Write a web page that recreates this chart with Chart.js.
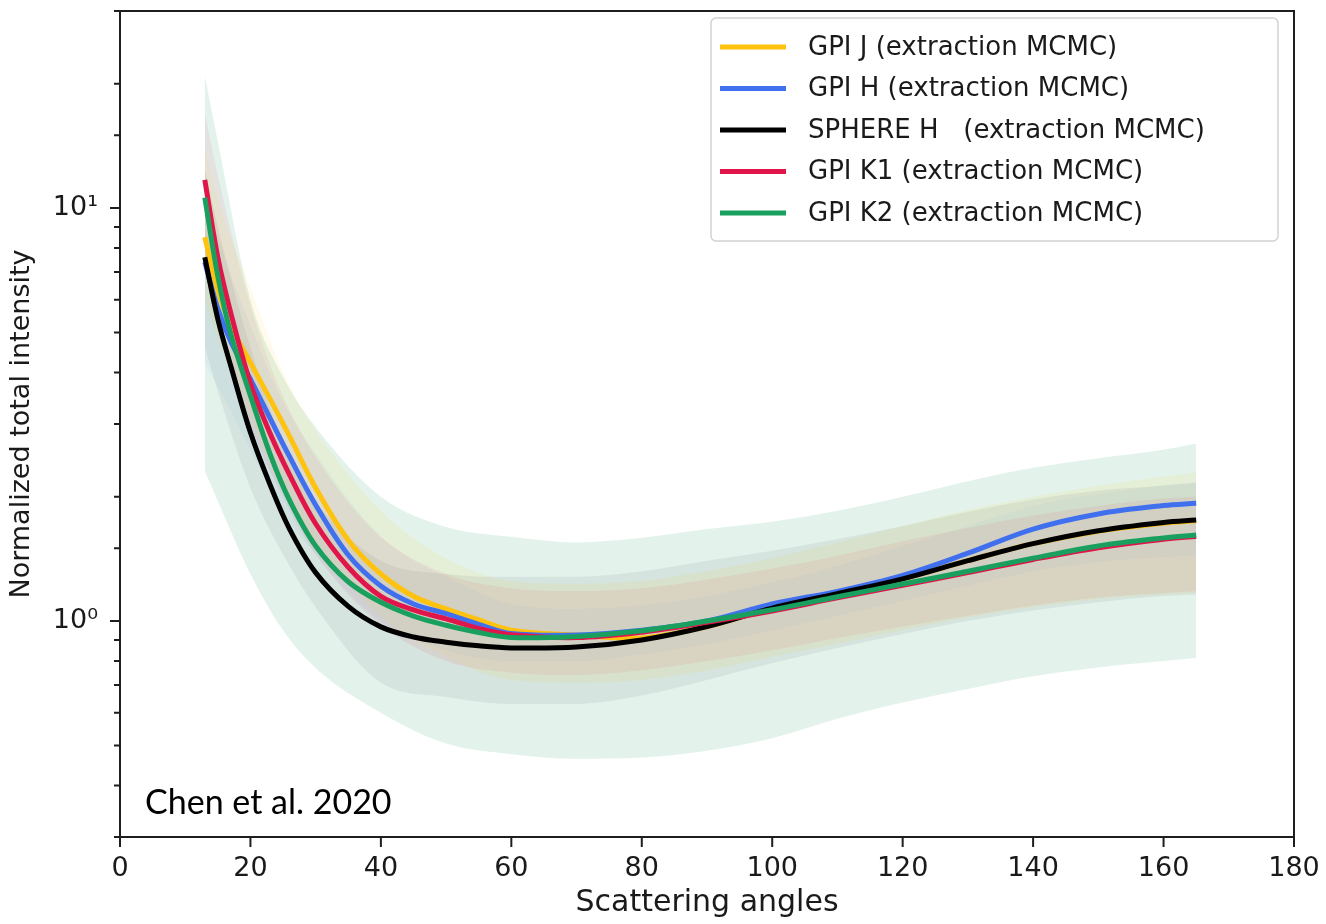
<!DOCTYPE html>
<html>
<head>
<meta charset="utf-8">
<script src="https://cdn.jsdelivr.net/npm/chart.js@4"></script>
<style>
  html, body { margin: 0; padding: 0; background: #fff; }
  #wrap { width: 1326px; height: 924px; }
</style>
</head>
<body>
<div id="wrap"><canvas id="chart" width="1326" height="924"></canvas></div>
<script>
// scattering angle grid for the mean curves
const ANGLES = [13, 15, 17, 20, 23, 26, 30, 35, 40, 45, 50, 55, 60, 70, 80, 90, 100, 110, 120, 130, 140, 150, 160, 165];
const GPI_J  = [8.5, 6.31, 5.19, 4.22, 3.45, 2.8, 2.1, 1.57, 1.3, 1.148, 1.07, 1.007, 0.95, 0.925, 0.91, 0.97, 1.075, 1.165, 1.265, 1.4, 1.54, 1.65, 1.725, 1.75];
const GPI_H  = [7.4, 5.7, 4.75, 3.85, 3.1, 2.5, 1.91, 1.445, 1.216, 1.1, 1.042, 0.982, 0.933, 0.925, 0.95, 1.0, 1.1, 1.18, 1.29, 1.46, 1.67, 1.817, 1.904, 1.928];
const SPHERE = [7.6, 5.38, 4.14, 2.86, 2.14, 1.67, 1.31, 1.085, 0.968, 0.915, 0.889, 0.871, 0.861, 0.865, 0.9, 0.97, 1.075, 1.165, 1.265, 1.4, 1.54, 1.655, 1.733, 1.757];
const GPI_K1 = [11.7, 7.59, 5.56, 3.76, 2.85, 2.26, 1.72, 1.35, 1.148, 1.064, 1.012, 0.96, 0.927, 0.912, 0.94, 0.993, 1.058, 1.138, 1.22, 1.31, 1.41, 1.505, 1.578, 1.602];
const GPI_K2 = [10.6, 6.84, 4.95, 3.51, 2.54, 1.96, 1.52, 1.245, 1.11, 1.028, 0.977, 0.938, 0.912, 0.918, 0.947, 1.0, 1.065, 1.145, 1.229, 1.32, 1.42, 1.52, 1.59, 1.616];

// uncertainty bands (lower / upper)
const BAND_ANGLES = [13, 15, 20, 25, 30, 40, 50, 60, 70, 80, 90, 100, 110, 120, 130, 140, 150, 160, 165];
const GPI_J_LO  = [6.0, 4.8, 3.1, 2.05, 1.55, 1.02, 0.82, 0.72, 0.71, 0.72, 0.76, 0.82, 0.88, 0.95, 1.02, 1.08, 1.13, 1.16, 1.17];
const GPI_J_HI  = [14.0, 10.5, 6.4, 4.0, 2.9, 1.85, 1.42, 1.25, 1.23, 1.25, 1.32, 1.42, 1.55, 1.7, 1.86, 2.0, 2.13, 2.24, 2.29];
const GPI_H_LO  = [4.2, 3.7, 2.6, 1.85, 1.45, 1.0, 0.85, 0.8, 0.8, 0.83, 0.88, 0.95, 1.03, 1.12, 1.22, 1.32, 1.39, 1.43, 1.44];
const GPI_H_HI  = [11.0, 8.5, 5.2, 3.4, 2.55, 1.6, 1.28, 1.1, 1.07, 1.09, 1.15, 1.24, 1.36, 1.52, 1.7, 1.9, 2.03, 2.13, 2.17];
const SPHERE_LO = [4.6, 3.6, 2.1, 1.45, 1.08, 0.71, 0.655, 0.63, 0.63, 0.66, 0.72, 0.79, 0.86, 0.93, 1.0, 1.06, 1.11, 1.15, 1.16];
const SPHERE_HI = [12.5, 9.0, 4.6, 2.7, 1.95, 1.4, 1.3, 1.28, 1.28, 1.32, 1.4, 1.48, 1.58, 1.7, 1.84, 1.97, 2.07, 2.13, 2.16];
const GPI_K1_LO = [7.5, 5.8, 3.0, 2.0, 1.45, 0.98, 0.8, 0.75, 0.74, 0.76, 0.8, 0.85, 0.91, 0.97, 1.03, 1.09, 1.14, 1.17, 1.18];
const GPI_K1_HI = [17.0, 12.0, 5.8, 3.5, 2.5, 1.6, 1.3, 1.2, 1.18, 1.2, 1.26, 1.34, 1.44, 1.56, 1.68, 1.8, 1.9, 1.98, 2.0];
const GPI_K2_LO = [2.31, 1.95, 1.3, 0.95, 0.77, 0.6, 0.505, 0.476, 0.464, 0.467, 0.485, 0.52, 0.58, 0.635, 0.685, 0.735, 0.772, 0.8, 0.814];
const GPI_K2_HI = [20.9, 14.5, 6.0, 3.9, 2.95, 2.0, 1.69, 1.6, 1.55, 1.59, 1.67, 1.74, 1.85, 2.0, 2.18, 2.35, 2.48, 2.6, 2.69];

const X_TICKS = [0, 20, 40, 60, 80, 100, 120, 140, 160, 180];
const Y_MIN = 0.3;
const Y_MAX = 30;

const series = [
  { label: "GPI J (extraction MCMC)",      color: "#ffc20e", rgb: "255,194,14", a: 0.085, mean: GPI_J,  lo: GPI_J_LO,  hi: GPI_J_HI,  order: 4 },
  { label: "GPI H (extraction MCMC)",      color: "#4170ef", rgb: "65,112,239", a: 0.05,  mean: GPI_H,  lo: GPI_H_LO,  hi: GPI_H_HI,  order: 3 },
  { label: "SPHERE H   (extraction MCMC)", color: "#000000", rgb: "0,0,0",      a: 0.06,  mean: SPHERE, lo: SPHERE_LO, hi: SPHERE_HI, order: 2 },
  { label: "GPI K1 (extraction MCMC)",     color: "#e0164b", rgb: "224,22,75",  a: 0.08,  mean: GPI_K1, lo: GPI_K1_LO, hi: GPI_K1_HI, order: 1 },
  { label: "GPI K2 (extraction MCMC)",     color: "#19a05f", rgb: "25,160,95",  a: 0.12,  mean: GPI_K2, lo: GPI_K2_LO, hi: GPI_K2_HI, order: 0 },
];

function pts(xs, ys) {
  return xs.map((x, i) => ({ x: x, y: ys[i] }));
}

const datasets = [];
series.forEach((s) => {
  // lower edge (invisible), then upper edge filled down to it
  datasets.push({
    data: pts(BAND_ANGLES, s.lo), borderWidth: 0, pointRadius: 0,
    fill: false, cubicInterpolationMode: "monotone", order: 20, isBand: true,
  });
  datasets.push({
    data: pts(BAND_ANGLES, s.hi), borderWidth: 0, pointRadius: 0,
    fill: "-1", backgroundColor: "rgba(" + s.rgb + "," + s.a + ")",
    cubicInterpolationMode: "monotone", order: 20, isBand: true,
  });
});
series.forEach((s) => {
  datasets.push({
    label: s.label, data: pts(ANGLES, s.mean),
    borderColor: s.color, borderWidth: 5, pointRadius: 0,
    fill: false, tension: 0.35, order: s.order,
  });
});

const FONT = "DejaVu Sans";

function noPad(scale) {
  scale.paddingLeft = 0;
  scale.paddingRight = 0;
  scale.paddingTop = 0;
  scale.paddingBottom = 0;
}

// spines, tick marks, legend and the citation text
const decor = {
  id: "decor",
  afterDraw(chart) {
    const { ctx, chartArea: a, scales } = chart;
    ctx.save();
    ctx.strokeStyle = "#1e1e1e";
    ctx.lineWidth = 2;
    ctx.strokeRect(a.left, a.top, a.right - a.left, a.bottom - a.top);

    ctx.beginPath();
    scales.x.ticks.forEach((t) => {
      const px = scales.x.getPixelForValue(t.value);
      ctx.moveTo(px, a.bottom);
      ctx.lineTo(px, a.bottom + 10);
    });
    scales.y.ticks.forEach((t) => {
      const py = scales.y.getPixelForValue(t.value);
      const lg = Math.log10(t.value);
      const major = Math.abs(lg - Math.round(lg)) < 1e-6;
      ctx.moveTo(a.left - (major ? 10 : 6), py);
      ctx.lineTo(a.left, py);
    });
    ctx.stroke();

    // legend box
    const lx = 711, ly = 18, lw = 567, lh = 223;
    ctx.beginPath();
    ctx.roundRect(lx, ly, lw, lh, 5);
    ctx.fillStyle = "rgba(255,255,255,0.85)";
    ctx.fill();
    ctx.strokeStyle = "#d2d2d2";
    ctx.lineWidth = 1.5;
    ctx.stroke();

    ctx.font = "26px '" + FONT + "'";
    ctx.textBaseline = "middle";
    ctx.textAlign = "left";
    const lines = chart.data.datasets.filter((d) => !d.isBand);
    lines.forEach((d, i) => {
      const y = 47 + i * 41.5;
      ctx.strokeStyle = d.borderColor;
      ctx.lineWidth = 5;
      ctx.beginPath();
      ctx.moveTo(720, y);
      ctx.lineTo(786, y);
      ctx.stroke();
      ctx.fillStyle = "#1a1a1a";
      ctx.fillText(d.label, 808, y + 1);
    });

    ctx.font = "34px Lato";
    ctx.textBaseline = "alphabetic";
    ctx.fillStyle = "#000";
    ctx.fillText("Chen et al. 2020", 145, 814);
    ctx.restore();
  },
};

new Chart(document.getElementById("chart"), {
  type: "line",
  data: { datasets: datasets },
  options: {
    responsive: false,
    animation: false,
    devicePixelRatio: 1,
    layout: { padding: { left: 0, right: 32, top: 11, bottom: 0 } },
    plugins: {
      legend: { display: false },
      tooltip: { enabled: false },
      filler: { drawTime: "beforeDatasetsDraw" },
    },
    scales: {
      x: {
        type: "linear",
        min: 0,
        max: 180,
        afterBuildTicks: (scale) => {
          scale.ticks = X_TICKS.map((v) => ({ value: v }));
        },
        afterFit: (scale) => { scale.height = 87; noPad(scale); },
        grid: { display: false, drawTicks: false },
        border: { display: false },
        ticks: { color: "#1a1a1a", font: { family: FONT, size: 27 }, padding: 16, maxRotation: 0 },
        title: { display: true, text: "Scattering angles", color: "#1a1a1a", font: { family: FONT, size: 30 }, padding: { top: 0, bottom: 3 } },
      },
      y: {
        type: "logarithmic",
        min: Y_MIN,
        max: Y_MAX,
        afterFit: (scale) => { scale.width = 120; noPad(scale); },
        grid: { display: false, drawTicks: false },
        border: { display: false },
        ticks: {
          autoSkip: false,
          color: "#1a1a1a",
          font: { family: FONT, size: 27 },
          padding: 22,
          callback: (v) => {
            const lg = Math.log10(v);
            if (Math.abs(lg - 1) < 1e-6) return "10\u00b9";
            if (Math.abs(lg) < 1e-6) return "10\u2070";
            return "";
          },
        },
        title: { display: true, text: "Normalized total intensity", color: "#1a1a1a", font: { family: FONT, size: 27 }, padding: 6 },
      },
    },
  },
  plugins: [decor],
});
</script>
</body>
</html>
